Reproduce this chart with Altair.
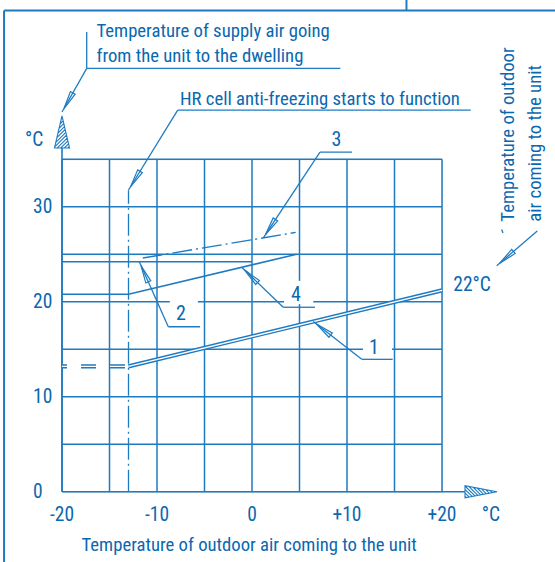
import math
import numpy as np
import pandas as pd
import altair as alt

LINE = "#1f7bc0"
TEXT = "#0a68b0"
FONT = "Roboto Condensed, Liberation Sans, sans-serif"
FS_TEXT = 18.7
FS_NUM = 19.5
PX = 1 / 9.5  # degrees C per screen pixel (same on both axes)

# ---- grid and ticks -------------------------------------------------------
grid_x = [-20, -15, -10, -5, 0, 5, 10, 15, 20]
grid_y = [5, 10, 15, 20, 25, 30, 35]
x_ticks = [-20, -10, 0, 10, 20]
x_tick_labels = ["-20", "-10", "0", "+10", "+20"]
y_ticks = [0, 10, 20, 30]
y_tick_labels = ["0", "10", "20", "30"]

# ---- curves (outdoor air temperature -> temperature, deg C) -------------
c1_x = [-13, 20]            # curve 1, solid double line
c1_y = [13.2, 21.2]
c1_pre_x = [-20, -13]       # curve 1 before anti-freezing (dashed)
c1_pre_y = [13.2, 13.2]
c2_x = [-20, 0]
c2_y = [24.2, 24.2]
c3_x = [-11.5, 4.6]         # curve 3, dash-dot
c3_y = [24.6, 27.3]
c4_x = [-20, -13, 4.7]
c4_y = [20.8, 20.8, 25.0]
antifreeze_x = -13          # anti-freezing threshold
antifreeze_y = [0, 31.75]

# ---- scales -----------------------------------------------------------------
XS = alt.Scale(domain=[-20, 20], nice=False, zero=False)
YS = alt.Scale(domain=[0, 35], nice=False, zero=False)


def X(f="x"):
    return alt.X(f"{f}:Q", scale=XS, axis=None)


def Y(f="y"):
    return alt.Y(f"{f}:Q", scale=YS, axis=None)


def X2(f="x2"):
    return alt.X2(f"{f}:Q")


def Y2(f="y2"):
    return alt.Y2(f"{f}:Q")


def seg_df(segs):
    return pd.DataFrame([dict(x=a[0], y=a[1], x2=b[0], y2=b[1]) for a, b in segs])


def rules(segs, width=1.5, color=LINE, dash=None):
    kw = dict(color=color, strokeWidth=width, strokeCap="butt")
    if dash:
        kw["strokeDash"] = dash
    return alt.Chart(seg_df(segs)).mark_rule(**kw).encode(
        x=X(), y=Y(), x2=X2(), y2=Y2())


def line(xs, ys, width=1.5, color=LINE, dash=None, offset=None):
    kw = dict(color=color, strokeWidth=width, strokeCap="butt", strokeJoin="miter")
    if dash:
        kw["strokeDash"] = dash
    if offset is not None:
        kw["strokeDashOffset"] = offset
    df = pd.DataFrame({"x": xs, "y": ys, "o": range(len(xs))})
    return alt.Chart(df).mark_line(**kw).encode(
        x=X(), y=Y(), order=alt.Order("o:Q"))


def on_curve(xs, ys, x):
    return (x, float(np.interp(x, xs, ys)))


# ---- grid -------------------------------------------------------------------
grid = rules([((gx, 0), (gx, 35)) for gx in grid_x] +
             [((-20, gy), (20, gy)) for gy in grid_y], width=1.5)

axes = rules([((-20, 0), (22.42, 0)), ((-20, 0), (-20, 36.2))], width=1.6)

frame = rules([((-26.1, -9), (-26.1, 50.66)), ((-26.1, 50.66), (34, 50.66)),
               ((16.26, 50.66), (16.26, 53))], width=2)

# white boxes behind the curve numbers
gaps = pd.DataFrame({
    "x": [-8.65, 3.37, 11.68], "x2": [-5.7, 6.45, 14.74],
    "y": [20.1, 22.2, 16.6], "y2": [17.4, 19.75, 14.3]})
gap_layer = alt.Chart(gaps).mark_rect(color="white").encode(
    x=X(), x2=X2(), y=Y(), y2=Y2())

# ---- curves -----------------------------------------------------------------
curve1_outer = line(c1_x, c1_y, width=4.2)
curve1_inner = line(c1_x, c1_y, width=1.4, color="white")
curve1_pre_outer = line(c1_pre_x, c1_pre_y, width=4.2, dash=[15, 14], offset=10)
curve1_pre_inner = line(c1_pre_x, c1_pre_y, width=1.4, color="white",
                        dash=[15, 14], offset=10)
curve2 = line(c2_x, c2_y, width=1.5)
curve3 = line(c3_x, c3_y, width=1.4, dash=[20, 4, 2, 4])
curve4 = line(c4_x, c4_y, width=1.5)
antifreeze = line([antifreeze_x, antifreeze_x], antifreeze_y, width=1.3,
                  dash=[22, 4, 2, 4])

# ---- leader lines -----------------------------------------------------------
t1 = on_curve(c1_x, c1_y, 6.45)
t2 = on_curve(c2_x, c2_y, -11.86)
t3 = on_curve(c3_x, c3_y, 1.19)
t4 = on_curve(c4_x, c4_y, -1.08)

pointers = [  # (start of slanted leg, target)
    ((-17.4, 44.57), (-20, 39.97)),
    ((-7.82, 40.18), (antifreeze_x, 31.76)),
    ((7.16, 35.76), t3),
    ((-8.81, 17.37), t2),
    ((3.29, 19.42), t4),
    ((11.55, 13.94), t1),
    ((30.03, 27.45), (25.76, 23.79)),
]
underlines = [
    ((-17.4, 48.39), (-17.4, 44.57)),
    ((-17.4, 44.57), (9.3, 44.57)),
    ((-7.82, 40.18), (23.02, 40.18)),
    ((7.16, 35.76), (10.53, 35.76)),
    ((-8.81, 17.37), (-5.47, 17.37)),
    ((3.29, 19.42), (6.63, 19.42)),
    ((11.55, 13.94), (14.81, 13.94)),
    ((26.28, 27.61), (26.42, 27.24)),
]
leaders = rules(pointers + underlines, width=1.3)


def arrow_row(start, end, back):
    dx, dy = end[0] - start[0], end[1] - start[1]
    L = math.hypot(dx, dy)
    return dict(x=end[0] - dx / L * back, y=end[1] - dy / L * back,
                angle=math.degrees(math.atan2(dx, dy)) % 360)


heads = pd.DataFrame([arrow_row(s, e, 13 * PX) for s, e in pointers])
LEADER_HEAD = "M0,-1 L0.3,1 L-0.3,1 Z"
head_layer = alt.Chart(heads).mark_point(
    shape=LEADER_HEAD, size=324, filled=False, color=LINE, strokeWidth=1.2,
    opacity=1).encode(x=X(), y=Y(), angle=alt.Angle("angle:Q", scale=None))


def hatched_triangle(w, n=10):
    """Narrow triangle pointing up inside the [-1,1] box, with diagonal hatch."""
    parts = [f"M0,-1 L{w:.3f},1 L{-w:.3f},1 Z"]
    for c in np.linspace(-0.85, 1 + w - 0.1, n):
        yl = (w / 2 + c) / (1 - w / 2)
        if yl <= 1:
            xl = -w * (yl + 1) / 2
        else:
            xl, yl = c - 1, 1.0
        yr = (c - w / 2) / (1 + w / 2)
        xr = w * (yr + 1) / 2
        if xr > xl:
            parts.append(f"M{xl:.3f},{yl:.3f} L{xr:.3f},{yr:.3f}")
    return " ".join(parts)


y_head = alt.Chart(pd.DataFrame({"x": [-20], "y": [37.87]})).mark_point(
    shape=hatched_triangle(0.47, 11), size=1024, filled=False, color=LINE,
    strokeWidth=1.1, opacity=1).encode(x=X(), y=Y())
x_head = alt.Chart(pd.DataFrame({"x": [24.105], "y": [0]})).mark_point(
    shape=hatched_triangle(0.38, 11), size=1024, filled=False, color=LINE,
    strokeWidth=1.1, opacity=1, angle=90).encode(x=X(), y=Y())

# ---- text -------------------------------------------------------------------
def texts(xs, ys, labels, align="left", size=FS_TEXT, angle=None, color=TEXT):
    kw = dict(align=align, baseline="alphabetic", font=FONT, fontSize=size,
              color=color)
    if angle is not None:
        kw["angle"] = angle
    df = pd.DataFrame({"x": xs, "y": ys, "t": labels})
    return alt.Chart(df).mark_text(**kw).encode(x=X(), y=Y(), text="t:N")


x_labels = texts(x_ticks, [-3.1] * len(x_ticks), x_tick_labels, align="center",
                 size=FS_NUM)
y_labels = texts([-23.05] * len(y_ticks), [v - 0.7 for v in y_ticks],
                 y_tick_labels, size=FS_NUM)
units = texts([-23.89, 24.18, 21.19], [36.43, -3.05, 21.16],
              ["°C", "°C", "22°C"], size=FS_NUM)
x_title = texts([-0.3], [-6.24], ["Temperature of outdoor air coming to the unit"],
                align="center")
notes = texts([-16.37, -16.37, -7.58],
              [47.84, 45.21, 40.66],
              ["Temperature of supply air going",
               "from the unit to the dwelling",
               "HR cell anti-freezing starts to function"])
numbers = texts([8.9, -7.47, 4.63, 12.84], [36.39, 18.08, 20.11, 14.5],
                ["3", "2", "4", "1"], align="center", size=20)
side = texts([27.58, 30.42], [28.43, 28.43],
             ["Temperature of outdoor", "air coming to the unit"], angle=270)

chart = alt.layer(
    grid, gap_layer, frame, axes,
    curve1_pre_outer, curve1_pre_inner, curve1_outer, curve1_inner,
    curve2, curve3, curve4, antifreeze,
    leaders, head_layer, y_head, x_head,
    x_labels, y_labels, units, x_title, notes, numbers, side,
).properties(
    width=380, height=332.5,
    padding={"left": 62, "top": 159.25, "right": 113, "bottom": 70.25},
    autosize=alt.AutoSizeParams(type="none"),
).configure_view(stroke=None).configure(background="white")

chart.save("out.html", embed_options={"renderer": "svg", "actions": False})
